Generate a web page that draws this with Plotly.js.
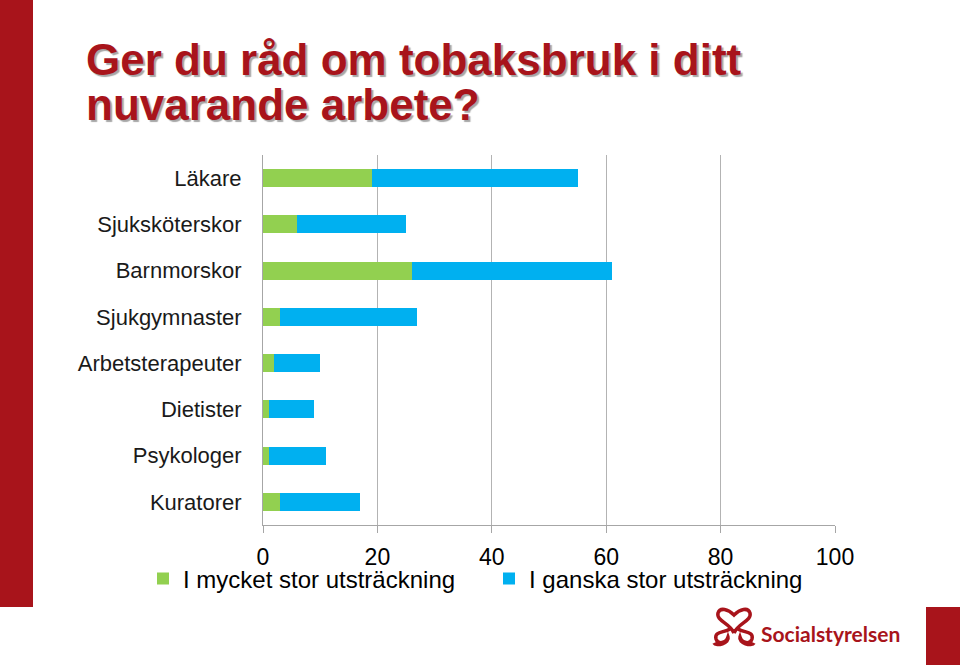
<!DOCTYPE html>
<html>
<head>
    <meta charset="utf-8">
    <title>Ger du råd om tobaksbruk</title>
    <style>
        html, body, #plot {
            height: 100%;
            width: 100%;
            margin: 0;
            padding: 0;
            overflow: hidden;
            background: #ffffff;
        }
        /* soft drop shadow under the slide heading */
        text[data-unformatted*="ditt"], text[data-unformatted*="arbete"] {
            text-shadow: 2px 2px 1px rgba(0, 0, 0, 0.35);
        }
    </style>
    <script src="https://cdn.plot.ly/plotly-3.0.1.min.js"></script>
</head>

<body>
<div id="plot"></div>
<script>
    const categories = ['Läkare', 'Sjuksköterskor', 'Barnmorskor', 'Sjukgymnaster',
        'Arbetsterapeuter', 'Dietister', 'Psykologer', 'Kuratorer'];
    const mycketStor = [19, 6, 26, 3, 2, 1, 1, 3];
    const ganskaStor = [36, 19, 35, 24, 8, 8, 10, 14];
    const seriesNames = ['I mycket stor utsträckning', 'I ganska stor utsträckning'];
    const xTicks = [0, 20, 40, 60, 80, 100];

    const W = 960, H = 665;
    const M = {l: 263, r: 125, t: 155, b: 140};
    const red = '#A8141B';
    const font = 'Liberation Sans, Arial, sans-serif';

    // pixel -> paper helpers for the page decorations
    const px = function (x) { return (x - M.l) / (W - M.l - M.r); };
    const py = function (y) { return (H - M.b - y) / (H - M.t - M.b); };

    function legendAt(x) {
        return {
            orientation: 'h',
            xref: 'container',
            yref: 'container',
            x: x / W,
            y: 1 - 579 / H,
            xanchor: 'left',
            yanchor: 'middle',
            font: {family: font, size: 24, color: '#000000'},
            bgcolor: 'rgba(0,0,0,0)'
        };
    }

    function loadChart() {
        const traceMycket = {
            y: categories,
            x: mycketStor,
            name: seriesNames[0],
            type: 'bar',
            orientation: 'h',
            marker: {color: '#92D050'},
            legend: 'legend',
            hovertemplate: '%{y}: %{x}<extra></extra>'
        };
        const traceGanska = {
            y: categories,
            x: ganskaStor,
            name: seriesNames[1],
            type: 'bar',
            orientation: 'h',
            marker: {color: '#00B0F0'},
            legend: 'legend2',
            hovertemplate: '%{y}: %{x}<extra></extra>'
        };

        const titleLines = ['Ger du råd om tobaksbruk i ditt', 'nuvarande arbete?'];
        const titleY = [59, 104];
        const annotations = titleLines.map(function (line, i) {
            return {
                text: '<b>' + line + '</b>', xref: 'paper', yref: 'paper',
                x: px(84), y: py(titleY[i]), xanchor: 'left', yanchor: 'middle',
                showarrow: false, font: {family: font, size: 44, color: red}
            };
        });
        annotations.push({
            text: '<b>Socialstyrelsen</b>', xref: 'paper', yref: 'paper',
            x: px(759), y: py(633), xanchor: 'left', yanchor: 'middle',
            showarrow: false, font: {family: 'Lato, sans-serif', size: 21, color: red}
        });

        const shapes = [
            {type: 'rect', xref: 'paper', yref: 'paper', x0: px(0), x1: px(33), y0: py(0), y1: py(607),
                fillcolor: red, line: {width: 0}, layer: 'below'},
            {type: 'rect', xref: 'paper', yref: 'paper', x0: px(926), x1: px(960), y0: py(607), y1: py(665),
                fillcolor: red, line: {width: 0}, layer: 'below'},
            // logo mark, two linked loops
            {type: 'path', xref: 'paper', yref: 'paper', xsizemode: 'pixel', ysizemode: 'pixel',
                xanchor: px(734), yanchor: py(627),
                path: 'M0,-6 C-4,4 -18,6 -16,14 C-14,20 -6,18 0,12 C6,18 14,20 16,14 C18,6 4,4 0,-6 ' +
                      'M-4,-2 C-10,-6 -20,-4 -18,-12 C-16,-18 -8,-16 -6,-10 C-4,-16 -18,-20 -20,-16 ' +
                      'M4,-2 C10,-6 20,-4 18,-12 C16,-18 8,-16 6,-10 C4,-16 18,-20 20,-16',
                line: {color: red, width: 3.5}, fillcolor: 'rgba(0,0,0,0)'}
        ];

        const layout = {
            width: W,
            height: H,
            barmode: 'stack',
            bargap: 0.61,
            paper_bgcolor: '#ffffff',
            plot_bgcolor: '#ffffff',
            margin: M,
            showlegend: true,
            font: {family: font, size: 22, color: '#000000'},
            xaxis: {
                range: [0, 100],
                tickvals: xTicks,
                ticktext: xTicks.map(String),
                ticks: 'outside',
                ticklen: 7,
                tickcolor: '#A6A6A6',
                tickfont: {family: font, size: 23, color: '#000000'},
                ticklabelstandoff: 4,
                showgrid: true,
                gridcolor: '#B3B3B3',
                gridwidth: 1,
                showline: true,
                linecolor: '#A6A6A6',
                linewidth: 1,
                zeroline: false,
                fixedrange: true
            },
            yaxis: {
                autorange: 'reversed',
                ticks: '',
                tickfont: {family: font, size: 22, color: '#1A1A1A'},
                ticklabelstandoff: 16,
                showline: true,
                linecolor: '#A6A6A6',
                linewidth: 1,
                showgrid: false,
                fixedrange: true
            },
            legend: legendAt(143),
            legend2: legendAt(489),
            annotations: annotations,
            shapes: shapes,
            hovermode: 'closest'
        };

        Plotly.newPlot('plot', [traceMycket, traceGanska], layout, {displayModeBar: false});
    }

    document.addEventListener('DOMContentLoaded', function () {
        loadChart();
    });
</script>
</body>
</html>
